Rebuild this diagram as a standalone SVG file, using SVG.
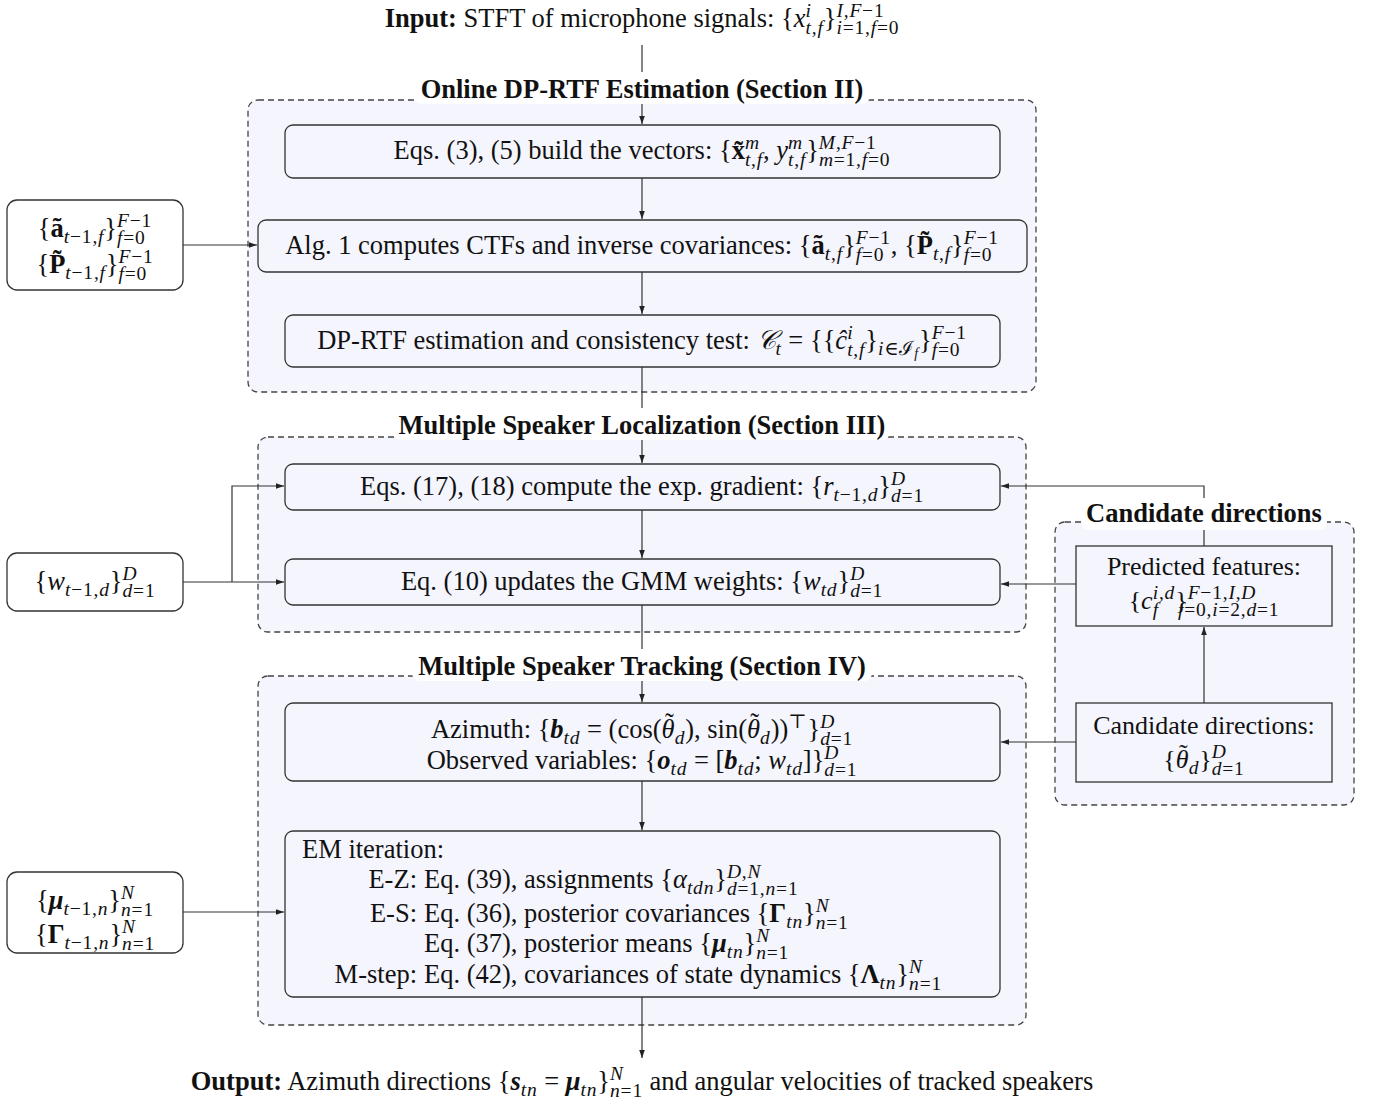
<svg xmlns="http://www.w3.org/2000/svg" width="1374" height="1099" viewBox="0 0 1374 1099">
<style>
text{font-family:"Liberation Serif","DejaVu Serif",serif;font-size:26.5px;fill:#111}
.hd{font-weight:bold;font-size:26.5px}
.B{font-weight:bold}
.i{font-style:italic}
.BI{font-weight:bold;font-style:italic}
.s{font-size:19.5px;letter-spacing:0.8px}
.ss{font-size:14px}
.big{font-size:26px}
.s2{font-size:19.5px;letter-spacing:0.8px}
.grp{fill:#f5f5fd;stroke:#444;stroke-width:1.3;stroke-dasharray:6 4}
.box{fill:#f5f5fd;stroke:#333;stroke-width:1.3}
.lbox{fill:#fff;stroke:#333;stroke-width:1.3}
.lbl{fill:#fff}
.c{fill:none;stroke:#333;stroke-width:1.2}
</style>
<defs>
<marker id="ah" viewBox="0 0 10 10" refX="10" refY="5" markerWidth="8" markerHeight="8" markerUnits="userSpaceOnUse" orient="auto"><path d="M0,1.5 L10,5 L0,8.5 z" fill="#222"/></marker>
</defs>
<rect width="1374" height="1099" fill="#fff"/>

<g id="clusters">
<rect id="g1" class="grp" x="248" y="100" width="788" height="292" rx="10"/>
<rect id="g2" class="grp" x="258" y="437" width="768" height="195" rx="10"/>
<rect id="g3" class="grp" x="258" y="676" width="768" height="349" rx="10"/>
<rect id="g4" class="grp" x="1055" y="522" width="299" height="283" rx="10"/>
</g>

<g id="connectors">
<path class="c" d="M642,45 V124" marker-end="url(#ah)"/>
<path class="c" d="M642,178 V219" marker-end="url(#ah)"/>
<path class="c" d="M183,245 H257" marker-end="url(#ah)"/>
<path class="c" d="M642,272 V314" marker-end="url(#ah)"/>
<path class="c" d="M642,367 V463" marker-end="url(#ah)"/>
<path class="c" d="M642,510 V558" marker-end="url(#ah)"/>
<path class="c" d="M183,582 H284" marker-end="url(#ah)"/>
<path class="c" d="M232,582 V486 H284" marker-end="url(#ah)"/>
<path class="c" d="M642,605 V702" marker-end="url(#ah)"/>
<path class="c" d="M642,781 V830" marker-end="url(#ah)"/>
<path class="c" d="M183,912 H284" marker-end="url(#ah)"/>
<path class="c" d="M642,997 V1058" marker-end="url(#ah)"/>
<path class="c" d="M1204,703 V627" marker-end="url(#ah)"/>
<path class="c" d="M1204,546 V486 H1001" marker-end="url(#ah)"/>
<path class="c" d="M1076,584 H1001" marker-end="url(#ah)"/>
<path class="c" d="M1076,742 H1001" marker-end="url(#ah)"/>
</g>

<g id="cluster-labels">
<rect class="lbl" x="414" y="72" width="456" height="32" rx="8"/>
<text class="hd" x="642" y="98" text-anchor="middle">Online DP-RTF Estimation (Section II)</text>
<rect class="lbl" x="394" y="408" width="496" height="32" rx="8"/>
<text class="hd" x="642" y="434" text-anchor="middle">Multiple Speaker Localization (Section III)</text>
<rect class="lbl" x="412" y="649" width="460" height="32" rx="8"/>
<text class="hd" x="642" y="675" text-anchor="middle">Multiple Speaker Tracking (Section IV)</text>
<rect class="lbl" x="1081" y="498" width="246" height="32" rx="8"/>
<text class="hd" x="1204" y="522" text-anchor="middle">Candidate directions</text>
</g>

<g id="input">
<text x="642" y="27" text-anchor="middle"><tspan class="B">Input:</tspan> STFT of microphone signals: {<tspan class="i">x</tspan><tspan class="s i" dy="-10">i</tspan><tspan class="s" dx="-6.2" dy="17"><tspan class="i">t</tspan>,<tspan class="i">f</tspan></tspan><tspan dy="-7">}</tspan><tspan class="s" dy="-10"><tspan class="i">I</tspan>,<tspan class="i">F</tspan>−1</tspan><tspan class="s" dx="-48" dy="17"><tspan class="i">i</tspan>=1,<tspan class="i">f</tspan>=0</tspan></text>
</g>

<g id="n1">
<rect class="box" x="285" y="125" width="715" height="53" rx="8"/>
<text x="642" y="159" text-anchor="middle">Eqs. (3), (5) build the vectors: {<tspan class="B">x&#x303;</tspan><tspan class="s i" dy="-10">m</tspan><tspan class="s" dx="-14.9" dy="17"><tspan class="i">t</tspan>,<tspan class="i">f</tspan></tspan><tspan dy="-7">, </tspan><tspan class="i">y</tspan><tspan class="s i" dy="-10">m</tspan><tspan class="s" dx="-14.9" dy="17"><tspan class="i">t</tspan>,<tspan class="i">f</tspan></tspan><tspan dy="-7">}</tspan><tspan class="s" dy="-10"><tspan class="i">M</tspan>,<tspan class="i">F</tspan>−1</tspan><tspan class="s" dx="-57.8" dy="17"><tspan class="i">m</tspan>=1,<tspan class="i">f</tspan>=0</tspan></text>
</g>

<g id="n2">
<rect class="box" x="258" y="220" width="769" height="52" rx="8"/>
<text x="642" y="254" text-anchor="middle">Alg. 1 computes CTFs and inverse covariances: {<tspan class="B">ã</tspan><tspan class="s" dy="6"><tspan class="i">t</tspan>,<tspan class="i">f</tspan></tspan><tspan dy="-6">}</tspan><tspan class="s" dy="-10"><tspan class="i">F</tspan>−1</tspan><tspan class="s" dx="-35.1" dy="17"><tspan class="i">f</tspan>=0</tspan><tspan dx="6.5" dy="-7">, {</tspan><tspan class="B">P&#x303;</tspan><tspan class="s" dy="6"><tspan class="i">t</tspan>,<tspan class="i">f</tspan></tspan><tspan dy="-6">}</tspan><tspan class="s" dy="-10"><tspan class="i">F</tspan>−1</tspan><tspan class="s" dx="-35.1" dy="17"><tspan class="i">f</tspan>=0</tspan></text>
</g>

<g id="n3">
<rect class="box" x="285" y="315" width="715" height="52" rx="8"/>
<text x="642" y="349" text-anchor="middle">DP-RTF estimation and consistency test: <tspan class="i">𝒞</tspan><tspan class="s i" dy="6">t</tspan><tspan dy="-6"> = {{</tspan><tspan class="i">ĉ</tspan><tspan class="s i" dy="-10">i</tspan><tspan class="s" dx="-6.2" dy="17"><tspan class="i">t</tspan>,<tspan class="i">f</tspan></tspan><tspan dy="-7">}</tspan><tspan class="s" dy="6"><tspan class="i">i</tspan>∈ℐ<tspan class="ss i" dy="3">f</tspan></tspan><tspan dy="-9">}</tspan><tspan class="s" dy="-10"><tspan class="i">F</tspan>−1</tspan><tspan class="s" dx="-35.1" dy="17"><tspan class="i">f</tspan>=0</tspan></text>
</g>

<g id="nA">
<rect class="lbox" x="7" y="200" width="176" height="90" rx="10"/>
<text x="95" y="237" text-anchor="middle">{<tspan class="B">ã</tspan><tspan class="s" dy="6"><tspan class="i">t</tspan>−1,<tspan class="i">f</tspan></tspan><tspan dy="-6">}</tspan><tspan class="s" dy="-10"><tspan class="i">F</tspan>−1</tspan><tspan class="s" dx="-35.1" dy="17"><tspan class="i">f</tspan>=0</tspan></text>
<text x="95" y="273" text-anchor="middle">{<tspan class="B">P&#x303;</tspan><tspan class="s" dy="6"><tspan class="i">t</tspan>−1,<tspan class="i">f</tspan></tspan><tspan dy="-6">}</tspan><tspan class="s" dy="-10"><tspan class="i">F</tspan>−1</tspan><tspan class="s" dx="-35.1" dy="17"><tspan class="i">f</tspan>=0</tspan></text>
</g>

<g id="n4">
<rect class="box" x="285" y="464" width="715" height="46" rx="8"/>
<text x="642" y="495" text-anchor="middle">Eqs. (17), (18) compute the exp. gradient: {<tspan class="i">r</tspan><tspan class="s" dy="6"><tspan class="i">t</tspan>−1,<tspan class="i">d</tspan></tspan><tspan dy="-6">}</tspan><tspan class="s i" dy="-10">D</tspan><tspan class="s" dx="-14.9" dy="17"><tspan class="i">d</tspan>=1</tspan></text>
</g>

<g id="n5">
<rect class="box" x="285" y="559" width="715" height="46" rx="8"/>
<text x="642" y="590" text-anchor="middle">Eq. (10) updates the GMM weights: {<tspan class="i">w</tspan><tspan class="s i" dy="6">td</tspan><tspan dy="-6">}</tspan><tspan class="s i" dy="-10">D</tspan><tspan class="s" dx="-14.9" dy="17"><tspan class="i">d</tspan>=1</tspan></text>
</g>

<g id="nB">
<rect class="lbox" x="7" y="553" width="176" height="58" rx="10"/>
<text x="95" y="590" text-anchor="middle">{<tspan class="i">w</tspan><tspan class="s" dy="6"><tspan class="i">t</tspan>−1,<tspan class="i">d</tspan></tspan><tspan dy="-6">}</tspan><tspan class="s i" dy="-10">D</tspan><tspan class="s" dx="-14.9" dy="17"><tspan class="i">d</tspan>=1</tspan></text>
</g>

<g id="nP">
<rect class="box" x="1076" y="546" width="256" height="80"/>
<text class="big" x="1204" y="575" text-anchor="middle">Predicted features:</text>
<text class="big" x="1204" y="609" text-anchor="middle">{<tspan class="i">c</tspan><tspan class="s2" dy="-10"><tspan class="i">i</tspan>,<tspan class="i">d</tspan></tspan><tspan class="s2 i" dx="-22.4" dy="17">f</tspan><tspan dx="16.2" dy="-7">}</tspan><tspan class="s2" dy="-10"><tspan class="i">F</tspan>−1,<tspan class="i">I</tspan>,<tspan class="i">D</tspan></tspan><tspan class="s2" dx="-78.3" dy="17"><tspan class="i">f</tspan>=0,<tspan class="i">i</tspan>=2,<tspan class="i">d</tspan>=1</tspan></text>
</g>

<g id="nQ">
<rect class="box" x="1076" y="703" width="256" height="79"/>
<text class="big" x="1204" y="734" text-anchor="middle">Candidate directions:</text>
<text class="big" x="1204" y="768" text-anchor="middle">{<tspan class="i">θ</tspan><tspan dx="-9.5" dy="-6">˜</tspan><tspan class="s2 i" dx="0.9" dy="12">d</tspan><tspan dy="-6">}</tspan><tspan class="s2 i" dy="-10">D</tspan><tspan class="s2" dx="-14.9" dy="17"><tspan class="i">d</tspan>=1</tspan></text>
</g>

<g id="n6">
<rect class="box" x="285" y="703" width="715" height="78" rx="8"/>
<text x="642" y="738" text-anchor="middle">Azimuth: {<tspan class="BI">b</tspan><tspan class="s i" dy="6">td</tspan><tspan dy="-6"> = (cos(</tspan><tspan class="i">θ</tspan><tspan dx="-9.7" dy="-6">˜</tspan><tspan class="s i" dx="0.9" dy="12">d</tspan><tspan dy="-6">), sin(</tspan><tspan class="i">θ</tspan><tspan dx="-9.7" dy="-6">˜</tspan><tspan class="s i" dx="0.9" dy="12">d</tspan><tspan dy="-6">))</tspan><tspan class="s" dy="-10">⊤</tspan><tspan dy="10">}</tspan><tspan class="s i" dy="-10">D</tspan><tspan class="s" dx="-14.9" dy="17"><tspan class="i">d</tspan>=1</tspan></text>
<text x="642" y="769" text-anchor="middle">Observed variables: {<tspan class="BI">o</tspan><tspan class="s i" dy="6">td</tspan><tspan dy="-6"> = [</tspan><tspan class="BI">b</tspan><tspan class="s i" dy="6">td</tspan><tspan dy="-6">; </tspan><tspan class="i">w</tspan><tspan class="s i" dy="6">td</tspan><tspan dy="-6">]}</tspan><tspan class="s i" dy="-10">D</tspan><tspan class="s" dx="-14.9" dy="17"><tspan class="i">d</tspan>=1</tspan></text>
</g>

<g id="n7">
<rect class="box" x="285" y="831" width="715" height="166" rx="8"/>
<text x="302" y="858">EM iteration:</text>
<text x="417" y="888" text-anchor="end">E-Z:</text>
<text x="424" y="888">Eq. (39), assignments {<tspan class="i">α</tspan><tspan class="s i" dy="6">tdn</tspan><tspan dy="-6">}</tspan><tspan class="s" dy="-10"><tspan class="i">D</tspan>,<tspan class="i">N</tspan></tspan><tspan class="s" dx="-34.4" dy="17"><tspan class="i">d</tspan>=1,<tspan class="i">n</tspan>=1</tspan></text>
<text x="417" y="922" text-anchor="end">E-S:</text>
<text x="424" y="922">Eq. (36), posterior covariances {<tspan class="B">Γ</tspan><tspan class="s i" dy="6">tn</tspan><tspan dy="-6">}</tspan><tspan class="s i" dy="-10">N</tspan><tspan class="s" dx="-13.8" dy="17"><tspan class="i">n</tspan>=1</tspan></text>
<text x="424" y="952">Eq. (37), posterior means {<tspan class="BI">μ</tspan><tspan class="s i" dy="6">tn</tspan><tspan dy="-6">}</tspan><tspan class="s i" dy="-10">N</tspan><tspan class="s" dx="-13.8" dy="17"><tspan class="i">n</tspan>=1</tspan></text>
<text x="417" y="983" text-anchor="end">M-step:</text>
<text x="424" y="983">Eq. (42), covariances of state dynamics {<tspan class="B">Λ</tspan><tspan class="s i" dy="6">tn</tspan><tspan dy="-6">}</tspan><tspan class="s i" dy="-10">N</tspan><tspan class="s" dx="-13.8" dy="17"><tspan class="i">n</tspan>=1</tspan></text>
</g>

<g id="nC">
<rect class="lbox" x="7" y="872" width="176" height="81" rx="10"/>
<text x="95" y="909" text-anchor="middle">{<tspan class="BI">μ</tspan><tspan class="s" dy="6"><tspan class="i">t</tspan>−1,<tspan class="i">n</tspan></tspan><tspan dy="-6">}</tspan><tspan class="s i" dy="-10">N</tspan><tspan class="s" dx="-13.8" dy="17"><tspan class="i">n</tspan>=1</tspan></text>
<text x="95" y="943" text-anchor="middle">{<tspan class="B">Γ</tspan><tspan class="s" dy="6"><tspan class="i">t</tspan>−1,<tspan class="i">n</tspan></tspan><tspan dy="-6">}</tspan><tspan class="s i" dy="-10">N</tspan><tspan class="s" dx="-13.8" dy="17"><tspan class="i">n</tspan>=1</tspan></text>
</g>

<g id="output">
<text x="642" y="1090" text-anchor="middle"><tspan class="B">Output:</tspan> Azimuth directions {<tspan class="BI">s</tspan><tspan class="s i" dy="6">tn</tspan><tspan dy="-6"> = </tspan><tspan class="BI">μ</tspan><tspan class="s i" dy="6">tn</tspan><tspan dy="-6">}</tspan><tspan class="s i" dy="-10">N</tspan><tspan class="s" dx="-13.8" dy="17"><tspan class="i">n</tspan>=1</tspan><tspan dy="-7"> and angular velocities of tracked speakers</tspan></text>
</g>
</svg>
